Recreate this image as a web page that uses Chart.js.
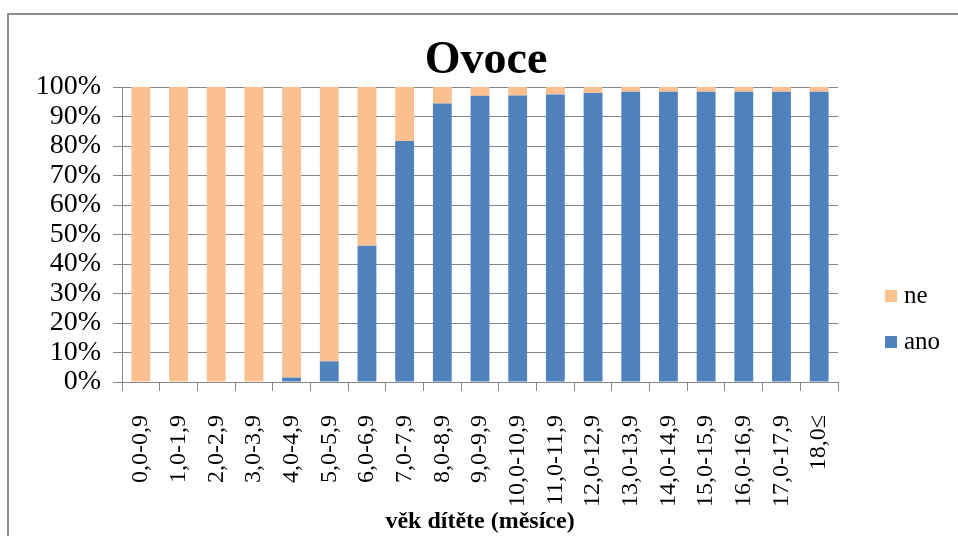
<!DOCTYPE html>
<html>
<head>
<meta charset="utf-8">
<script src="https://cdn.jsdelivr.net/npm/chart.js@4"></script>
<style>
  body { margin: 0; background: #fff; }
  #wrap { width: 958px; height: 536px; }
</style>
</head>
<body>
<div id="wrap"><canvas id="ovoce" width="958" height="536"></canvas></div>
<script>
// Kategorie (věk dítěte v měsících)
const vek = ['0,0-0,9', '1,0-1,9', '2,0-2,9', '3,0-3,9', '4,0-4,9', '5,0-5,9', '6,0-6,9',
  '7,0-7,9', '8,0-8,9', '9,0-9,9', '10,0-10,9', '11,0-11,9', '12,0-12,9', '13,0-13,9',
  '14,0-14,9', '15,0-15,9', '16,0-16,9', '17,0-17,9', '18,0≤'];

// podíl v %
const ano = [0, 0, 0, 0, 1.5, 7.0, 46.2, 81.7, 94.4, 97.0, 97.1, 97.5, 98.0, 98.4, 98.4, 98.4, 98.4, 98.4, 98.4];
const ne = [100, 100, 100, 100, 98.5, 93.0, 53.8, 18.3, 5.6, 3.0, 2.9, 2.5, 2.0, 1.6, 1.6, 1.6, 1.6, 1.6, 1.6];

const yTicks = [0, 10, 20, 30, 40, 50, 60, 70, 80, 90, 100];

const modra = '#4F81BD';
const oranzova = '#FAC090';
const seda = '#868686';
const serif = "'Liberation Serif', 'Times New Roman', serif";

// ramecek, nadpis a legenda kreslime sami
const doplnky = {
  id: 'doplnky',
  afterDraw(chart) {
    const ctx = chart.ctx;
    ctx.save();
    ctx.strokeStyle = '#8c8c8c';
    ctx.lineWidth = 2;
    ctx.strokeRect(8, 14, 980, 600);

    ctx.fillStyle = '#000';
    ctx.font = 'bold 46px ' + serif;
    ctx.textAlign = 'center';
    ctx.textBaseline = 'middle';
    ctx.fillText('Ovoce', 486, 61);

    // legenda (ne nahore, ano dole)
    const ds = chart.data.datasets;
    const poradi = [1, 0];
    ctx.font = '25px ' + serif;
    ctx.textAlign = 'left';
    poradi.forEach((i, k) => {
      const y = 296 + k * 46;
      ctx.fillStyle = ds[i].backgroundColor;
      ctx.fillRect(885, y - 6, 12, 12);
      ctx.fillStyle = '#000';
      ctx.fillText(ds[i].label, 904, y);
    });
    ctx.restore();
  }
};

new Chart(document.getElementById('ovoce'), {
  type: 'bar',
  data: {
    labels: vek,
    datasets: [
      { label: 'ano', data: ano, backgroundColor: modra, categoryPercentage: 1, barPercentage: 0.5 },
      { label: 'ne', data: ne, backgroundColor: oranzova, categoryPercentage: 1, barPercentage: 0.5 }
    ]
  },
  options: {
    responsive: false,
    animation: false,
    layout: { padding: { top: 87, right: 120, left: 0, bottom: 0 } },
    plugins: {
      legend: { display: false },
      tooltip: { enabled: false },
      title: { display: false }
    },
    scales: {
      x: {
        stacked: true,
        afterFit(s) { s.height = 154; },
        grid: { drawOnChartArea: false, drawTicks: true, tickLength: 9, color: seda },
        border: { color: seda, width: 1 },
        ticks: {
          color: '#000',
          font: { family: serif, size: 24 },
          minRotation: 90,
          maxRotation: 90,
          autoSkip: false,
          padding: 24
        },
        title: {
          display: true,
          text: 'věk dítěte (měsíce)',
          color: '#000',
          font: { family: serif, size: 24, weight: 'bold' },
          padding: { top: 0, bottom: 0 }
        }
      },
      y: {
        stacked: true,
        min: 0,
        max: 100,
        afterFit(s) { s.width = 122; },
        afterBuildTicks(s) { s.ticks = yTicks.map(v => ({ value: v })); },
        grid: { color: seda, tickLength: 9 },
        border: { color: seda, width: 1 },
        ticks: {
          color: '#000',
          font: { family: serif, size: 28 },
          padding: 12,
          autoSkip: false,
          callback: v => v + '%'
        }
      }
    }
  },
  plugins: [doplnky]
});
</script>
</body>
</html>
